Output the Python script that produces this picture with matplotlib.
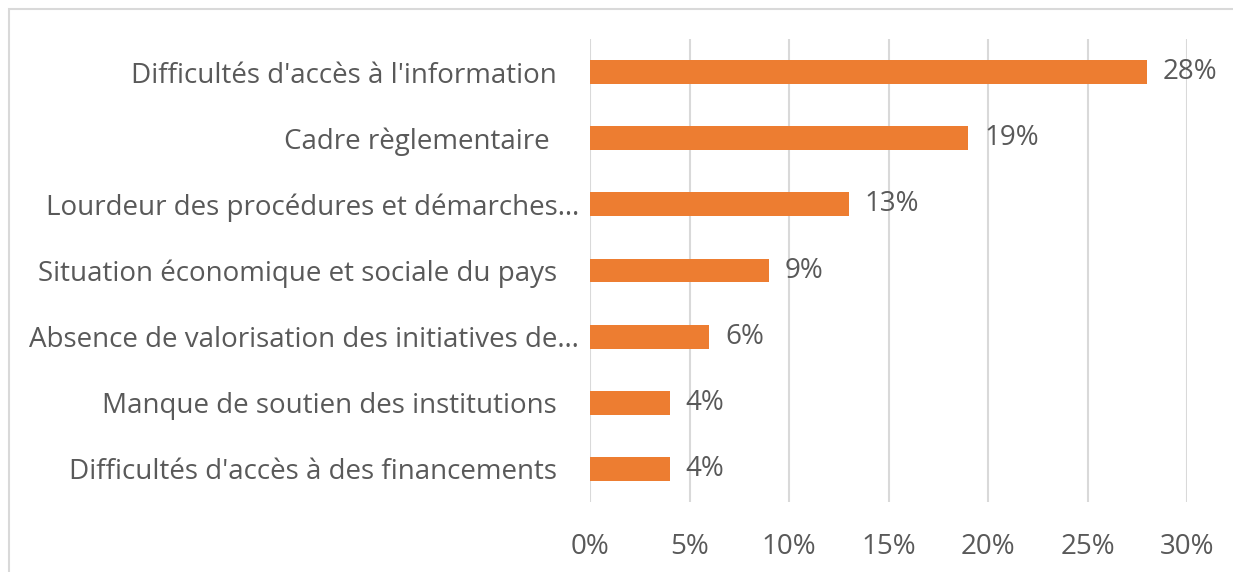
import matplotlib
matplotlib.use("Agg")
import matplotlib.pyplot as plt
from matplotlib.patches import Rectangle

categories = [
    "Difficultés d'accès à l'information   ",
    "Cadre règlementaire    ",
    "Lourdeur des procédures et démarches…",
    "Situation économique et sociale du pays   ",
    "Absence de valorisation des initiatives de…",
    "Manque de soutien des institutions   ",
    "Difficultés d'accès à des financements   ",
]
values = [28, 19, 13, 9, 6, 4, 4]
xticks = [0, 5, 10, 15, 20, 25, 30]
xticklabels = ["0%", "5%", "10%", "15%", "20%", "25%", "30%"]

W, H = 1233, 572
plt.rcParams['font.family'] = ['Open Sans', 'DejaVu Sans']
fig = plt.figure(figsize=(W / 100, H / 100), dpi=100)
ax = fig.add_axes([590 / W, 1 - 502 / H, (1187 - 590) / W, (502 - 39) / H])

txt = '#595959'
bar_color = '#ED7D31'
fs = 20
y = list(range(len(categories)))[::-1]
ax.barh(y, values, height=0.36, color=bar_color, zorder=3)
for yi, v in zip(y, values):
    ax.text(v + 0.8, yi, f"{v}%", va='center', ha='left', fontsize=fs, color=txt)

ax.set_xlim(0, 30)
ax.set_ylim(-0.5, len(categories) - 0.5)
ax.set_xticks(xticks)
ax.set_xticklabels(xticklabels, fontsize=fs, color=txt)
ax.set_yticks(y)
ax.set_yticklabels(categories, fontsize=fs, color=txt)
ax.tick_params(axis='both', length=0)
ax.tick_params(axis='y', pad=8)
ax.tick_params(axis='x', pad=22)
ax.grid(axis='x', color='#D9D9D9', linewidth=1.5, zorder=0)
for s in ax.spines.values():
    s.set_visible(False)

fig.patches.append(Rectangle((9 / W, -0.05), 1.2, 1 - 9 / H + 0.05, transform=fig.transFigure,
                             fill=False, edgecolor='#D9D9D9', linewidth=1.5))
fig.savefig("out.png", dpi=100)
